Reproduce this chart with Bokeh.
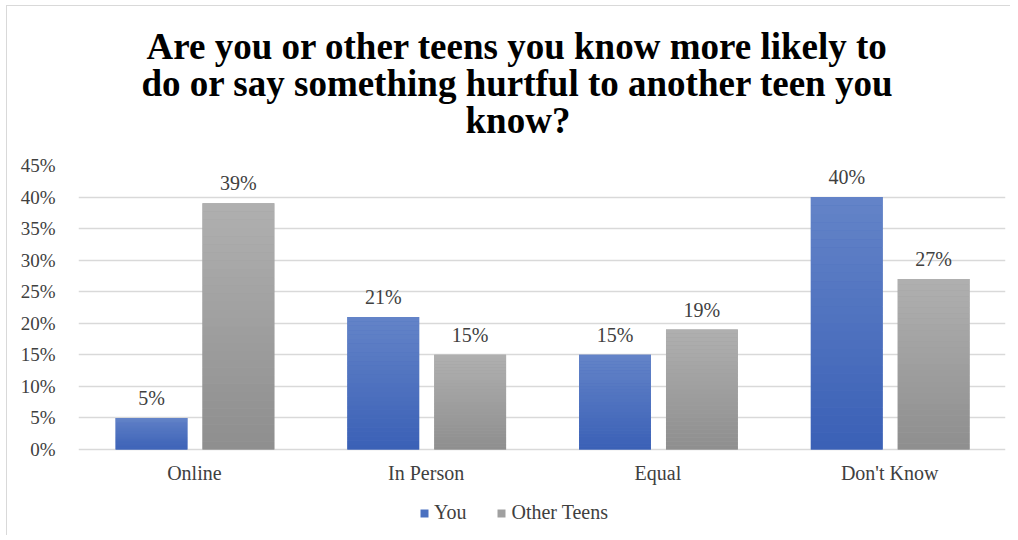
from bokeh.plotting import figure
from bokeh.models import (ColumnDataSource, FactorRange, FixedTicker, PrintfTickFormatter,
                          Legend, LegendItem, Range1d, Title)
from bokeh.transform import dodge
from bokeh.core.properties import value
from bokeh.embed import file_html
from bokeh.resources import INLINE

categories = ["Online", "In Person", "Equal", "Don't Know"]
series_names = ["You", "Other Teens"]
you_values = [5, 21, 15, 40]
other_values = [39, 15, 19, 27]
y_ticks = [0, 5, 10, 15, 20, 25, 30, 35, 40, 45]
title_lines = ["Are you or other teens you know more likely to",
               "do or say something hurtful to another teen you",
               "know?"]

FONT = "Liberation Serif"
BLUE_TOP, BLUE_BOT = (0x64, 0x84, 0xc8), (0x3a, 0x60, 0xb6)
GRAY_TOP, GRAY_BOT = (0xb0, 0xb0, 0xb0), (0x8e, 0x8e, 0x8e)

# the frame extends below 0% to hold the category labels and the legend
p = figure(frame_width=927, frame_height=370, x_range=FactorRange(*categories),
           y_range=Range1d(-13.63, 45), output_backend="svg", toolbar_location=None,
           min_border_left=71, min_border_right=5, min_border_top=159, min_border_bottom=0,
           styles={"border-top": "1px solid #d9d9d9", "border-left": "1px solid #d9d9d9",
                   "margin-left": "6px", "margin-top": "5px"})
p.outline_line_color = None
p.x_range.range_padding = 0

# spacer between the title block and the plot frame
p.add_layout(Title(text=" ", text_font_size="1px", standoff=25), "above")
title_offsets = [68, 63, 387]
for line, off in reversed(list(zip(title_lines, title_offsets))):
    t = Title(text=line, align="left", text_font=FONT, text_font_style="bold",
              text_font_size="37px", text_color="#000000",
              standoff=-6, offset=off)
    p.add_layout(t, "above")

N = 30


def hexc(a, b, t):
    return "#%02x%02x%02x" % tuple(int(round(a[i] + (b[i] - a[i]) * t)) for i in range(3))


def gradient_bars(vals, offset, ctop, cbot):
    xs, tops, bots, cols = [], [], [], []
    for c, v in zip(categories, vals):
        for k in range(N):
            xs.append(c)
            bots.append(v * k / N)
            tops.append(v * (k + 1) / N)
            cols.append(hexc(cbot, ctop, (k + 0.5) / N))
    base = ColumnDataSource(dict(x=categories, top=vals))
    p.vbar(x=dodge("x", offset, range=p.x_range), top="top", width=0.31,
           fill_color=hexc(cbot, ctop, 0.5), line_color=None, source=base)
    src = ColumnDataSource(dict(x=xs, top=tops, bottom=bots, color=cols))
    return p.vbar(x=dodge("x", offset, range=p.x_range), top="top", bottom="bottom",
                  width=0.31, fill_color="color", line_color=None, source=src)


gradient_bars(you_values, -0.185, BLUE_TOP, BLUE_BOT)
gradient_bars(other_values, 0.19, GRAY_TOP, GRAY_BOT)

# legend proxies
r_you = p.vbar(x=[categories[0]], top=[0], width=0, fill_color="#4a70c0", line_color=None)
r_oth = p.vbar(x=[categories[0]], top=[0], width=0, fill_color="#a0a0a0", line_color=None)

for off, vals in ((-0.185, you_values), (0.19, other_values)):
    s = ColumnDataSource(dict(x=categories, y=vals, t=["%d%%" % v for v in vals]))
    p.text(x=dodge("x", off, range=p.x_range), y="y", text="t", source=s,
           text_align="center", text_baseline="middle", y_offset=-20,
           text_font=value(FONT), text_font_size="20px", text_color="#404040")

# category labels under the 0% baseline
cat_src = ColumnDataSource(dict(x=categories, y=[0] * len(categories), t=categories))
p.text(x="x", y="y", text="t", source=cat_src, text_align="center", text_baseline="middle",
       y_offset=24, text_font=value(FONT), text_font_size="20px", text_color="#404040")

p.yaxis.ticker = FixedTicker(ticks=y_ticks)
p.yaxis.formatter = PrintfTickFormatter(format="%d%%")
p.yaxis.axis_line_color = None
p.yaxis.major_tick_line_color = None
p.yaxis.minor_tick_line_color = None
p.yaxis.major_label_standoff = 17
p.yaxis.major_label_text_font = FONT
p.yaxis.major_label_text_font_size = "19px"
p.yaxis.major_label_text_color = "#404040"

p.xaxis.visible = False

p.xgrid.grid_line_color = None
p.ygrid.ticker = FixedTicker(ticks=y_ticks)
p.ygrid.grid_line_color = "#d9d9d9"
p.ygrid.grid_line_width = 1.5

legend = Legend(items=[LegendItem(label=series_names[0], renderers=[r_you]),
                       LegendItem(label=series_names[1], renderers=[r_oth])],
                orientation="horizontal", location=(341, 11),
                label_text_font=FONT, label_text_font_size="20px", label_text_color="#404040",
                glyph_width=10, glyph_height=10, label_standoff=5, spacing=30,
                border_line_color=None, background_fill_alpha=0, margin=0, padding=4)
p.add_layout(legend, "center")

open("out.html", "w").write(file_html(p, INLINE))
